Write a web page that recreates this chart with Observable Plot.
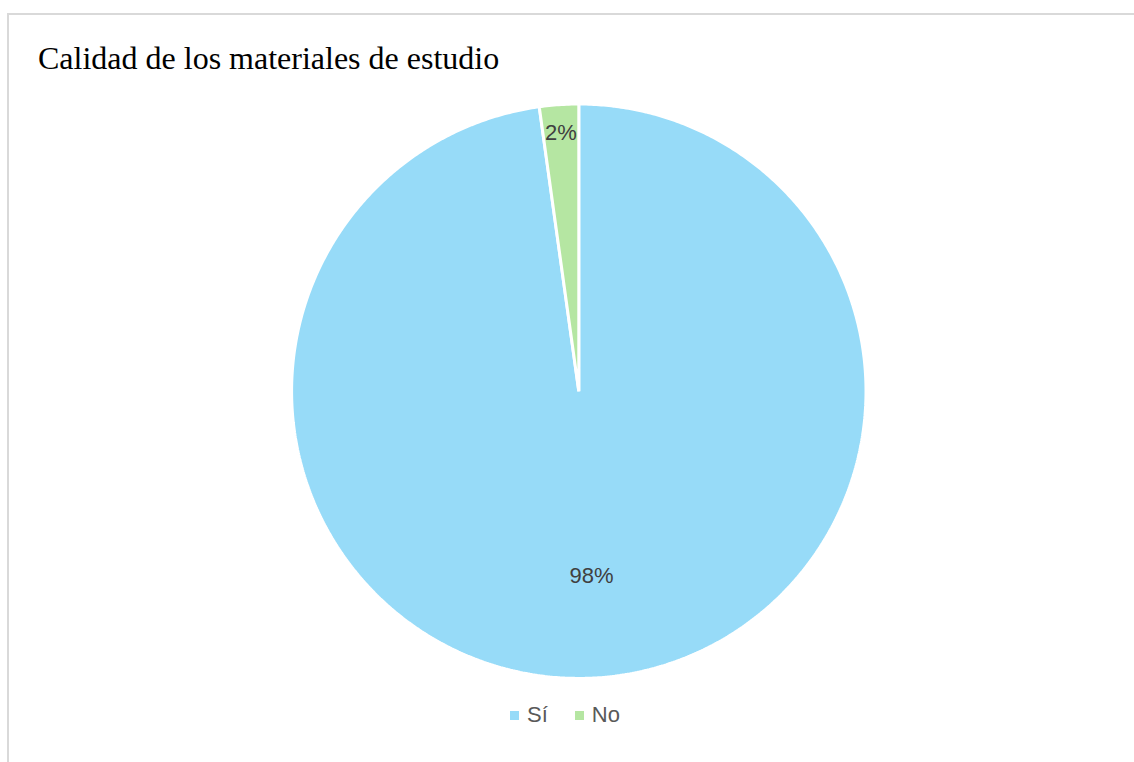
<!DOCTYPE html>
<html>
<head>
<meta charset="utf-8">
<script src="https://cdn.jsdelivr.net/npm/d3@7"></script>
<script src="https://cdn.jsdelivr.net/npm/@observablehq/plot@0.6"></script>
<style>
  html, body { margin: 0; padding: 0; background: #fff; width: 1134px; height: 762px; overflow: hidden; }
  #frame { position: absolute; left: 7px; top: 13px; width: 1200px; height: 800px;
           border-top: 2px solid #d9d9d9; border-left: 2px solid #d9d9d9; box-sizing: border-box; }
  #title { position: absolute; left: 38px; top: 42px; font-family: "Liberation Serif", "Times New Roman", serif;
           font-size: 32px; line-height: 32px; color: #000; white-space: nowrap; }
  #chart { position: absolute; left: 0; top: 95px; }
  #legend { position: absolute; left: 510px; top: 700px; height: 30px; display: flex; align-items: center;
            font-family: "Liberation Sans", Arial, sans-serif; font-size: 22px; color: #595959; }
  .item { display: flex; align-items: center; margin-right: 27px; }
  .sw { width: 9px; height: 9px; margin-right: 8px; }
</style>
</head>
<body>
<div id="frame"></div>
<div id="title">Calidad de los materiales de estudio</div>
<div id="chart"></div>
<div id="legend"></div>
<script>
// Data
const categories = ["Sí", "No"];
const values = [97.8, 2.2];
const colors = ["#97dbf8", "#b5e6a2"];

// Pie geometry (angles clockwise from top)
const arcs = d3.pie().sort(null).value(d => d)(values);
const slicePoints = [];
arcs.forEach((a, i) => {
  const key = categories[i];
  slicePoints.push({key, x: 0, y: 0});
  const n = Math.max(2, Math.ceil((a.endAngle - a.startAngle) / (Math.PI / 360)));
  for (let j = 0; j <= n; j++) {
    const t = a.startAngle + (a.endAngle - a.startAngle) * j / n;
    slicePoints.push({key, x: Math.sin(t), y: Math.cos(t)});
  }
});
const total = d3.sum(values);
const labels = arcs.map((a, i) => {
  const mid = (a.startAngle + a.endAngle) / 2;
  const k = values[i] / total < 0.05 ? 0.9 : 0.645;
  return {x: Math.sin(mid) * k, y: Math.cos(mid) * k, text: Math.round(values[i] / total * 100) + "%"};
});

const cx = 578.3, cy = 390.7 - 95, R = 287.2;
const plot = Plot.plot({
  width: 1134,
  height: 600,
  margin: 0,
  x: {domain: [-1, 1], range: [cx - R, cx + R], axis: null},
  y: {domain: [-1, 1], range: [cy + R, cy - R], axis: null},
  color: {domain: categories, range: colors},
  marks: [
    Plot.line(slicePoints, {x: "x", y: "y", z: "key", fill: "key", stroke: "white", strokeWidth: 3,
      curve: "linear-closed", strokeLinejoin: "miter"}),
    Plot.text(labels, {x: "x", y: "y", text: "text", fontSize: 22, fill: "#404040",
      fontFamily: "Liberation Sans, Arial, sans-serif"})
  ],
  style: {background: "transparent", overflow: "visible"}
});
document.getElementById("chart").appendChild(plot);

const legend = document.getElementById("legend");
categories.forEach((c, i) => {
  const it = document.createElement("div");
  it.className = "item";
  const sw = document.createElement("div");
  sw.className = "sw";
  sw.style.background = colors[i];
  const tx = document.createElement("span");
  tx.textContent = c;
  it.appendChild(sw); it.appendChild(tx);
  legend.appendChild(it);
});
</script>
</body>
</html>
